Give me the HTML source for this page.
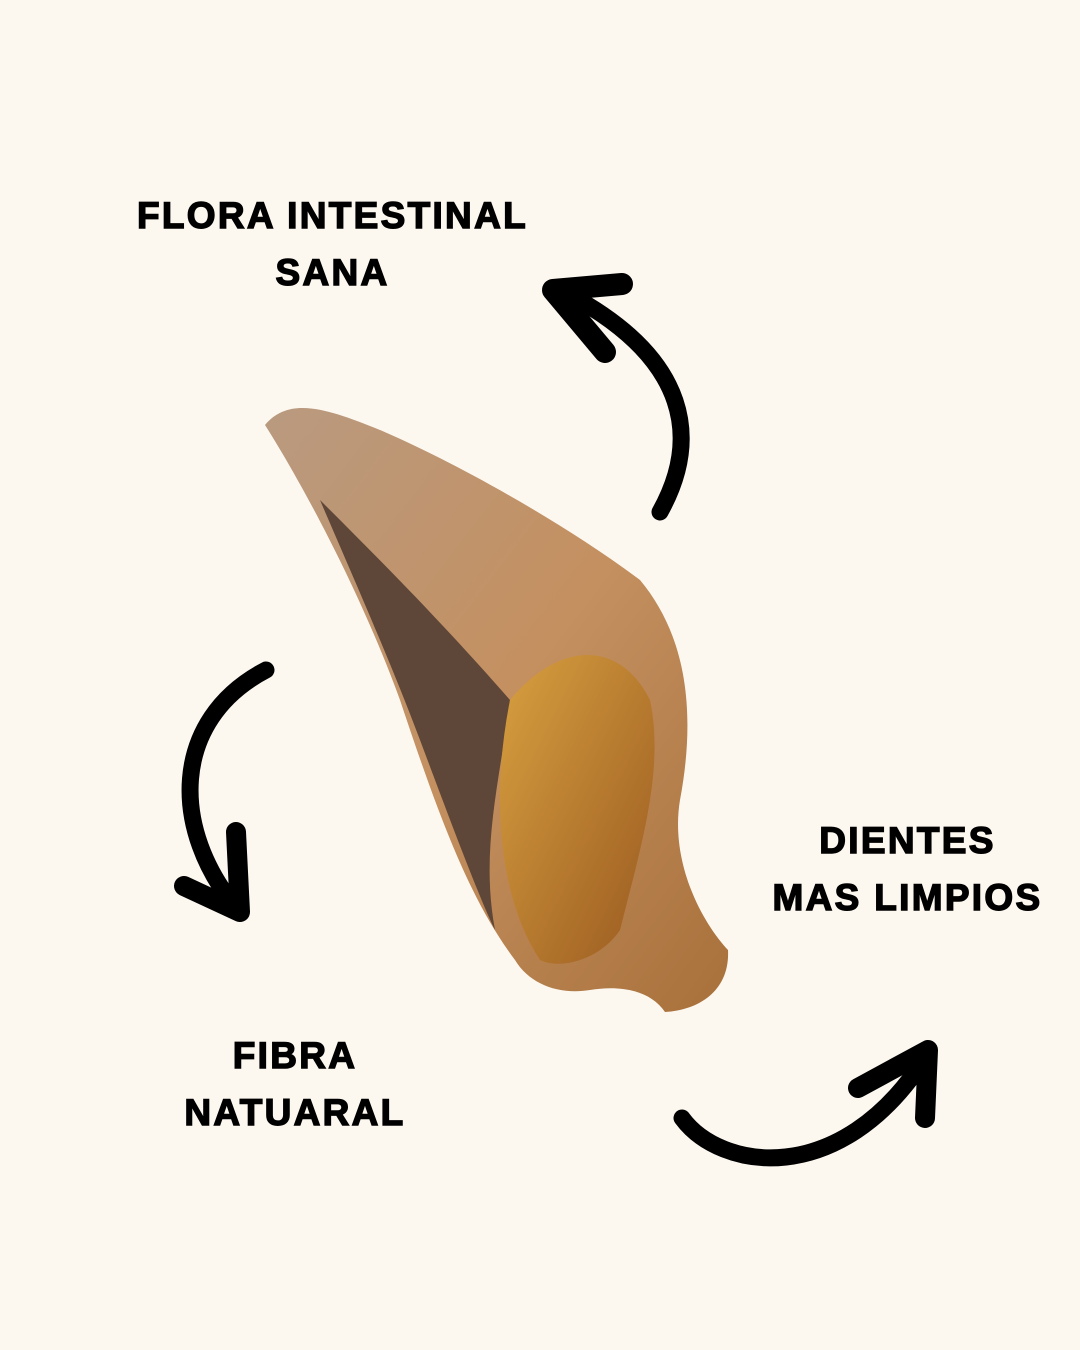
<!DOCTYPE html>
<html><head><meta charset="utf-8"><style>
html,body{margin:0;padding:0;background:#fcf8f0;}
.c{position:relative;width:1080px;height:1350px;overflow:hidden;background:#fcf8f0;}
.t{position:absolute;font-family:"Liberation Sans",sans-serif;font-weight:900;font-size:37px;color:#000;text-align:center;line-height:57px;letter-spacing:2.3px;-webkit-text-stroke:1.4px #000;}
svg{position:absolute;left:0;top:0;}
</style></head><body><div class="c">
<svg width="1080" height="1350" viewBox="0 0 1080 1350">
<defs>
<linearGradient id="g1" x1="0" y1="0" x2="1" y2="1">
<stop offset="0" stop-color="#b99a80"/><stop offset="0.5" stop-color="#c49060"/><stop offset="1" stop-color="#a8703a"/>
</linearGradient>
<linearGradient id="g2" x1="0" y1="0" x2="1" y2="1">
<stop offset="0" stop-color="#d8a040"/><stop offset="1" stop-color="#9a5a20"/>
</linearGradient>
</defs>
<path d="M265,425 C290,395 330,410 380,430 C450,460 560,520 640,580 C690,640 695,720 680,800 C670,860 700,920 728,950 C730,990 700,1010 665,1012 C650,990 620,985 590,990 C560,995 530,985 515,960 C470,900 440,820 400,700 C360,590 300,480 265,425 Z" fill="url(#g1)"/>
<path d="M320,500 C380,560 440,620 510,700 C500,780 480,850 495,930 C480,900 450,820 420,740 C390,660 350,570 320,500 Z" fill="#5e4638"/>
<path d="M510,700 C560,640 620,640 650,700 C665,770 640,850 620,930 C600,960 560,970 540,960 C500,900 490,800 510,700 Z" fill="url(#g2)"/>
<g fill="none" stroke="#000" stroke-linecap="round" stroke-linejoin="round">
<path d="M660,512 C700,440 690,360 570,295" stroke-width="17"/>
<path d="M622,284 L553,290 L605,352" stroke-width="22"/>
<path d="M266,670 C170,720 170,830 238,910" stroke-width="17"/>
<path d="M184,886 L240,912 L236,832" stroke-width="20"/>
<path d="M682,1118 C720,1170 840,1190 925,1058" stroke-width="17"/>
<path d="M858,1088 L928,1050 L925,1118" stroke-width="20"/>
</g>
</svg>
<div class="t" style="left:100px;top:187px;width:465px;">FLORA INTESTINAL<br>SANA</div>
<div class="t" style="left:700px;top:812px;width:415px;">DIENTES<br>MAS LIMPIOS</div>
<div class="t" style="left:145px;top:1027px;width:300px;">FIBRA<br>NATUARAL</div>
</div></body></html>
